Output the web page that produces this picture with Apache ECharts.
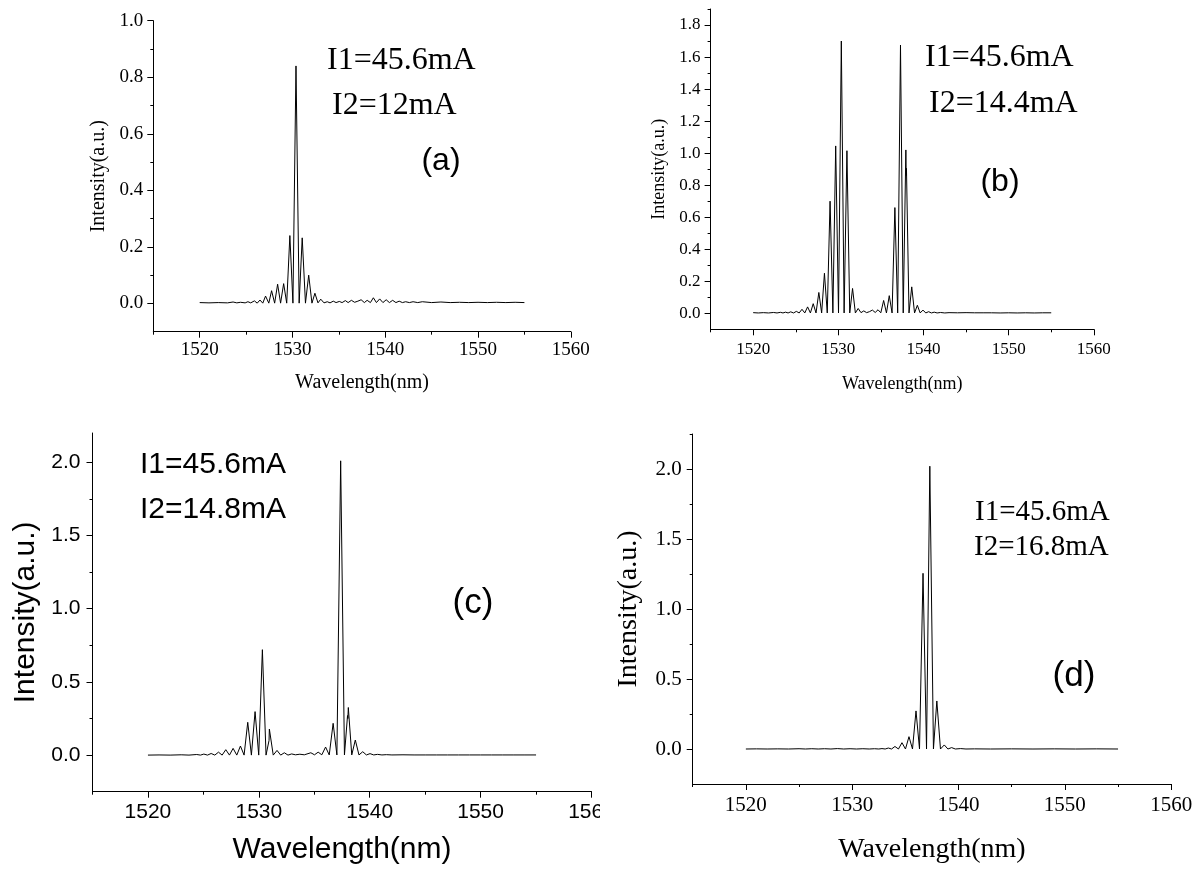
<!DOCTYPE html>
<html><head><meta charset="utf-8">
<script src="https://cdn.jsdelivr.net/npm/echarts@6/dist/echarts.min.js"></script>
<style>
html,body{margin:0;padding:0;background:#fff;width:1200px;height:877px;overflow:hidden}
.p{position:absolute;overflow:hidden}
</style></head>
<body>
<div id="pa" class="p" style="left:0;top:0;width:600px;height:420px"></div>
<div id="pb" class="p" style="left:600px;top:0;width:600px;height:420px"></div>
<div id="pc" class="p" style="left:0;top:420px;width:600px;height:457px"></div>
<div id="pd" class="p" style="left:600px;top:420px;width:600px;height:457px"></div>
<script>
// ---- data: [wavelength (nm), intensity (a.u.)] ----
const specA = [[1520,0.003],[1521,0.002],[1522,0.003],[1523,0.002],[1523.6,0.005],[1524,0.002],[1524.4,0.004],[1524.9,0.002],[1525.2,0.006],[1525.5,0.002],[1525.9,0.009],[1526.2,0.001],[1526.5,0.012],[1526.8,0.001],[1527.1,0.026],[1527.45,0.001],[1527.75,0.045],[1528.08,0.001],[1528.4,0.068],[1528.72,0.001],[1529.05,0.070],[1529.38,0.001],[1529.72,0.240],[1530.05,0.001],[1530.38,0.840],[1530.72,0.001],[1531.05,0.232],[1531.4,0.001],[1531.75,0.100],[1532.1,0.001],[1532.42,0.036],[1532.75,0.002],[1533.05,0.015],[1533.4,0.002],[1533.75,0.006],[1534.05,0.002],[1534.4,0.008],[1534.7,0.003],[1535.05,0.007],[1535.35,0.003],[1535.7,0.010],[1536.0,0.003],[1536.35,0.011],[1536.7,0.004],[1537.05,0.008],[1537.4,0.013],[1537.75,0.003],[1538.05,0.011],[1538.4,0.003],[1538.72,0.020],[1539.05,0.003],[1539.4,0.016],[1539.75,0.003],[1540.1,0.013],[1540.45,0.003],[1540.8,0.011],[1541.15,0.003],[1541.5,0.008],[1541.85,0.003],[1542.2,0.006],[1542.6,0.003],[1543.0,0.006],[1543.5,0.003],[1544,0.006],[1545,0.003],[1546,0.005],[1547,0.003],[1548,0.004],[1549,0.003],[1550,0.004],[1551,0.003],[1552,0.004],[1553,0.003],[1554,0.004],[1555,0.003]];

const specB = [[1520,0.004],[1520.6,0.002],[1521.2,0.004],[1521.8,0.002],[1522.4,0.005],[1522.8,0.002],[1523.2,0.006],[1523.5,0.002],[1523.8,0.007],[1524.1,0.002],[1524.41,0.009],[1524.74,0.002],[1525.07,0.012],[1525.4,0.002],[1525.73,0.025],[1526.06,0.002],[1526.39,0.040],[1526.72,0.002],[1527.05,0.060],[1527.38,0.002],[1527.71,0.130],[1528.04,0.002],[1528.37,0.250],[1528.7,0.002],[1529.03,0.700],[1529.36,0.002],[1529.69,1.045],[1530.02,0.002],[1530.35,1.700],[1530.68,0.002],[1531.01,1.015],[1531.34,0.002],[1531.67,0.155],[1532.0,0.002],[1532.33,0.030],[1532.66,0.004],[1532.99,0.015],[1533.32,0.004],[1533.65,0.010],[1533.85,0.004],[1534.0,0.020],[1534.33,0.005],[1534.66,0.022],[1534.99,0.003],[1535.32,0.080],[1535.65,0.002],[1535.98,0.110],[1536.31,0.002],[1536.64,0.660],[1536.97,0.002],[1537.3,1.675],[1537.62,0.002],[1537.93,1.020],[1537.97,0.860],[1538.0,0.905],[1538.3,0.002],[1538.62,0.165],[1538.95,0.002],[1539.28,0.050],[1539.61,0.002],[1539.94,0.020],[1540.27,0.002],[1540.6,0.010],[1540.93,0.002],[1541.26,0.007],[1541.6,0.002],[1542,0.005],[1542.5,0.002],[1543,0.004],[1544,0.003],[1545,0.004],[1546,0.003],[1547,0.003],[1548,0.003],[1549,0.002],[1550,0.003],[1551,0.002],[1552,0.003],[1553,0.002],[1554,0.003],[1555,0.003]];

const specC = [[1520,0.0],[1521,0.001],[1522,0.0],[1523,0.002],[1523.7,0.0],[1524.4,0.004],[1524.74,0.0],[1525.04,0.007],[1525.37,0.0],[1525.7,0.011],[1526.03,0.0],[1526.36,0.020],[1526.69,0.0],[1527.02,0.037],[1527.35,0.0],[1527.68,0.046],[1528.01,0.0],[1528.34,0.062],[1528.67,0.0],[1529.0,0.224],[1529.33,0.0],[1529.66,0.297],[1529.99,0.0],[1530.32,0.720],[1530.65,0.0],[1530.92,0.100],[1530.95,0.178],[1531.3,0.0],[1531.64,0.032],[1531.97,0.0],[1532.3,0.016],[1532.63,0.0],[1532.96,0.008],[1533.3,0.002],[1533.7,0.006],[1534.1,0.002],[1534.69,0.016],[1535.02,0.002],[1535.35,0.020],[1535.68,0.002],[1536.02,0.055],[1536.35,0.001],[1536.7,0.217],[1537.04,0.001],[1537.38,2.010],[1537.72,0.001],[1538.0,0.270],[1538.03,0.250],[1538.07,0.325],[1538.38,0.001],[1538.7,0.103],[1539.03,0.001],[1539.37,0.023],[1539.7,0.001],[1540.03,0.010],[1540.36,0.001],[1540.7,0.005],[1541.1,0.001],[1541.5,0.003],[1542,0.001],[1543,0.002],[1544,0.001],[1545,0.001],[1546,0.001],[1547,0.001],[1548,0.001],[1549,0.001],[1550,0.001],[1551,0.001],[1552,0.001],[1553,0.001],[1554,0.001],[1555,0.001]];

const specD = [[1520,0.0],[1521,0.001],[1522,0.0],[1523,0.001],[1524,0.0],[1525,0.002],[1525.6,0.0],[1526.2,0.002],[1526.8,0.0],[1527.4,0.002],[1528,0.0],[1528.6,0.003],[1529.2,0.0],[1529.8,0.002],[1530.4,0.0],[1531,0.002],[1531.6,0.0],[1532.1,0.002],[1532.5,0.0],[1532.8,0.003],[1533.1,0.0],[1533.4,0.007],[1533.7,0.0],[1534.02,0.018],[1534.35,0.0],[1534.68,0.045],[1535.01,0.0],[1535.34,0.088],[1535.67,0.0],[1536.0,0.272],[1536.33,0.0],[1536.66,1.255],[1536.99,0.0],[1537.3,2.020],[1537.64,0.0],[1537.96,0.343],[1538.3,0.0],[1538.66,0.029],[1539.0,0.0],[1539.35,0.010],[1539.7,0.0],[1540.2,0.003],[1540.7,0.0],[1541.5,0.001],[1543,0.0],[1545,0.001],[1547,0.0],[1549,0.001],[1551,0.0],[1553,0.001],[1555,0.0]];

// ---- tick labels ----
const xMajorTicks = [1520, 1530, 1540, 1550, 1560];
const xMinorTicks = [1515, 1525, 1535, 1545, 1555];
const yMajorAB_a = [0, 0.2, 0.4, 0.6, 0.8, 1.0];
const yMinorAB_a = [0.1, 0.3, 0.5, 0.7, 0.9];
const yMajorAB_b = [0, 0.2, 0.4, 0.6, 0.8, 1.0, 1.2, 1.4, 1.6, 1.8];
const yMinorAB_b = [0.1, 0.3, 0.5, 0.7, 0.9, 1.1, 1.3, 1.5, 1.7, 1.9];
const yMajorCD = [0, 0.5, 1.0, 1.5, 2.0];
const yMinorC = [0.25, 0.75, 1.25, 1.75];
const yMinorD = [0.25, 0.75, 1.25, 1.75, 2.25];

// ---- texts ----
const yName = 'Intensity(a.u.)';
const xName = 'Wavelength(nm)';
const annA = ['I1=45.6mA', 'I2=12mA', '(a)'];
const annB = ['I1=45.6mA', 'I2=14.4mA', '(b)'];
const annC = ['I1=45.6mA', 'I2=14.8mA', '(c)'];
const annD = ['I1=45.6mA', 'I2=16.8mA', '(d)'];

const SERIF = '"Liberation Serif", "Times New Roman", serif';
const SANS = '"Liberation Sans", Arial, sans-serif';

function txt(x, y, s, size, fam, align) {
  return {type:'text', x:x, y:y, silent:true,
    style:{text:s, fill:'#000', font: size + 'px ' + fam, fontSize:size, fontFamily:fam,
      align:align||'left', verticalAlign:'middle', textAlign:align||'left', textVerticalAlign:'middle'}};
}

function build(id, c) {
  const chart = echarts.init(document.getElementById(id), null, {renderer:'canvas'});
  const black = {color:'#000', width:1};
  const tickFont = {fontFamily:c.fam, fontSize:c.tickSize, color:'#000'};
  const nameFont = {fontFamily:c.fam, fontSize:c.nameSize, color:'#000'};
  chart.setOption({
    animation:false,
    backgroundColor:'#fff',
    grid:{left:c.grid[0], top:c.grid[1], right:c.grid[2], bottom:c.grid[3], containLabel:false, outerBoundsMode:'none'},
    xAxis:[
      {type:'value', min:1515, max:1560, position:'bottom',
       axisLine:{show:true, onZero:false, lineStyle:black},
       axisTick:{show:true, customValues:xMajorTicks, length:6, lineStyle:black},
       axisLabel:{show:true, customValues:xMajorTicks, margin:c.xMargin, formatter:function(v){return String(Math.round(v));}, ...tickFont},
       splitLine:{show:false},
       name:xName, nameLocation:'middle', nameGap:c.xGap, nameTextStyle:nameFont},
      {type:'value', min:1515, max:1560, position:'bottom',
       axisLine:{show:false, onZero:false},
       axisTick:{show:true, customValues:xMinorTicks, length:3, lineStyle:black},
       axisLabel:{show:false}, splitLine:{show:false}}
    ],
    yAxis:[
      {type:'value', min:c.ymin, max:c.ymax, position:'left',
       axisLine:{show:true, onZero:false, lineStyle:black},
       axisTick:{show:true, customValues:c.yMajor, length:6, lineStyle:black},
       axisLabel:{show:true, customValues:c.yMajor, margin:c.yMargin, formatter:function(v){return Number(v).toFixed(1);}, ...tickFont},
       splitLine:{show:false},
       name:yName, nameLocation:'middle', nameGap:c.yGap, nameTextStyle:nameFont},
      {type:'value', min:c.ymin, max:c.ymax, position:'left',
       axisLine:{show:false, onZero:false},
       axisTick:{show:true, customValues:c.yMinor, length:3, lineStyle:black},
       axisLabel:{show:false}, splitLine:{show:false}}
    ],
    series:[{type:'line', data:c.data, xAxisIndex:0, yAxisIndex:0, showSymbol:false, symbol:'none',
      lineStyle:{color:'#000', width:1}, silent:true}],
    graphic:c.texts
  });
}

build('pa', {data:specA, fam:SERIF, tickSize:19, nameSize:20, grid:[153.3, 20.7, 29.2, 88.3],
  ymin:-0.1, ymax:1.0, yMajor:yMajorAB_a, yMinor:yMinorAB_a, xMargin:9, yMargin:10, xGap:41, yGap:43,
  texts:[txt(327, 61, annA[0], 32, SERIF), txt(332, 106, annA[1], 32, SERIF), txt(441, 161, annA[2], 32, SANS, 'center')]});

build('pb', {data:specB, fam:SERIF, tickSize:17, nameSize:18, grid:[110.6, 9, 106.2, 90.7],
  ymin:-0.1, ymax:1.9, yMajor:yMajorAB_b, yMinor:yMinorAB_b, xMargin:12, yMargin:10, xGap:46, yGap:40,
  texts:[txt(325, 58, annB[0], 32, SERIF), txt(329, 104, annB[1], 32, SERIF), txt(400, 182, annB[2], 32, SANS, 'center')]});

build('pc', {data:specC, fam:SANS, tickSize:21, nameSize:30, grid:[92.5, 13, 8.5, 85.3],
  ymin:-0.25, ymax:2.2, yMajor:yMajorCD, yMinor:yMinorC, xMargin:10, yMargin:12, xGap:43, yGap:52,
  texts:[txt(140, 45, annC[0], 30, SANS), txt(140, 90, annC[1], 30, SANS), txt(473, 183, annC[2], 35, SANS, 'center')]});

build('pd', {data:specD, fam:SERIF, tickSize:21, nameSize:28, grid:[92.7, 14, 28.8, 93],
  ymin:-0.25, ymax:2.25, yMajor:yMajorCD, yMinor:yMinorD, xMargin:11, yMargin:11, xGap:52, yGap:50,
  texts:[txt(375, 92, annD[0], 29, SERIF), txt(374, 127, annD[1], 29, SERIF), txt(474, 256, annD[2], 35, SANS, 'center')]});
</script>
</body></html>
